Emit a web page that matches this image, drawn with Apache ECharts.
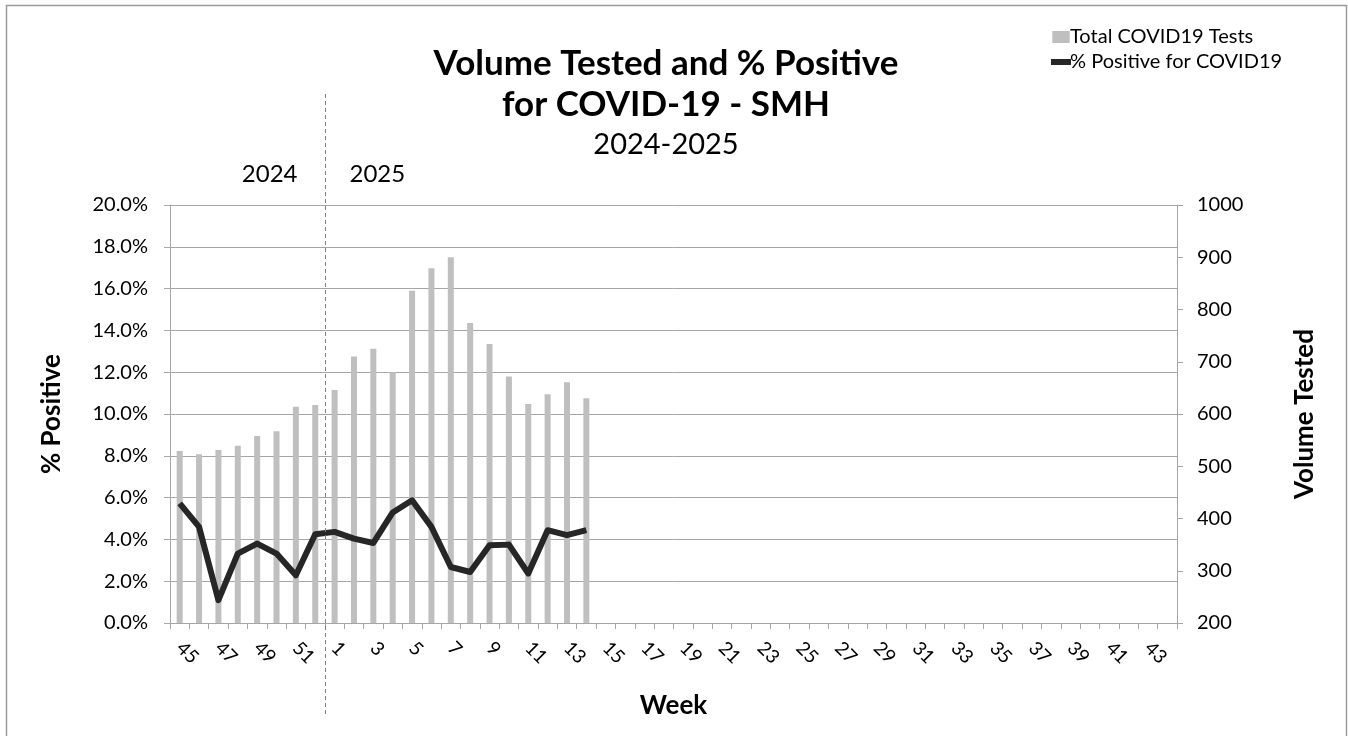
<!DOCTYPE html>
<html>
<head>
<meta charset="utf-8">
<script src="https://cdn.jsdelivr.net/npm/echarts@6/dist/echarts.min.js"></script>
<style>
  html, body { margin: 0; padding: 0; background: #fff; }
  #chart { width: 1348px; height: 736px; }
</style>
</head>
<body>
<div id="chart"></div>
<script>
// week numbers: 45-52 of 2024, then 1-44 of 2025
var weeks = ['45', '46', '47', '48', '49', '50', '51', '52'];
for (var w = 1; w <= 44; w++) weeks.push(String(w));

// Total COVID19 tests per week (right axis)
var totalTests = [529, 523, 531, 539, 558, 567, 614, 617, 646, 710, 725,
  680, 836, 879, 900, 774, 734, 672, 619, 638, 661, 630];

// % positive for COVID19 (left axis)
var pctPositive = [5.72, 4.60, 1.09, 3.32, 3.80, 3.32, 2.28, 4.25, 4.36, 4.04, 3.83,
  5.29, 5.87, 4.60, 2.68, 2.44, 3.72, 3.75, 2.37, 4.44, 4.20, 4.44];

var FONT = 'Lato';
var chart = echarts.init(document.getElementById('chart'));

var option = {
  animation: false,
  textStyle: { fontFamily: FONT, color: '#000' },
  title: [
    {
      text: 'Volume Tested and % Positive\nfor COVID-19 - SMH',
      left: 661, top: 38, textAlign: 'center',
      textStyle: { fontFamily: FONT, fontSize: 35, fontWeight: 'bold', color: '#000', lineHeight: 41 }
    },
    {
      text: '2024-2025',
      left: 661, top: 125, textAlign: 'center',
      textStyle: { fontFamily: FONT, fontSize: 29, fontWeight: 'normal', color: '#000' }
    }
  ],
  legend: {
    orient: 'vertical',
    left: 1046, top: 22,
    itemGap: 5,
    itemWidth: 20, itemHeight: 12,
    textStyle: { fontFamily: FONT, fontSize: 20, color: '#000', padding: [0, 0, 0, -6] },
    data: [
      { name: 'Total COVID19 Tests', icon: 'path://M0,0 H16 V11 H0 Z', itemStyle: { color: '#bfbfbf' } },
      { name: '% Positive for COVID19', icon: 'path://M0,0 H20 V6 H0 Z', itemStyle: { color: '#262626' } }
    ]
  },
  grid: { left: 170, right: 171, top: 205, bottom: 113 },
  xAxis: {
    type: 'category',
    data: weeks,
    boundaryGap: true,
    name: 'Week',
    nameLocation: 'middle',
    nameGap: 70,
    nameTextStyle: { fontFamily: FONT, fontSize: 26, fontWeight: 'bold', color: '#000' },
    axisLine: { lineStyle: { color: '#a6a6a6', width: 1 } },
    axisTick: { show: true, interval: 0, length: 6, lineStyle: { color: '#a6a6a6' } },
    axisLabel: { interval: 1, rotate: -45, fontFamily: FONT, fontSize: 19, color: '#000', margin: 22 }
  },
  yAxis: [
    {
      type: 'value',
      min: 0, max: 20, interval: 2,
      name: '% Positive',
      nameLocation: 'middle',
      nameGap: 105,
      nameRotate: 90,
      nameTextStyle: { fontFamily: FONT, fontSize: 26, fontWeight: 'bold', color: '#000' },
      axisLine: { show: true, lineStyle: { color: '#a6a6a6' } },
      axisTick: { show: true, length: 6, lineStyle: { color: '#a6a6a6' } },
      axisLabel: {
        fontFamily: FONT, fontSize: 20, color: '#000', margin: 22,
        formatter: function (v) { return v.toFixed(1) + '%'; }
      },
      splitLine: { show: true, lineStyle: { color: '#a6a6a6', width: 1 } }
    },
    {
      type: 'value',
      position: 'right',
      min: 200, max: 1000, interval: 100,
      name: 'Volume Tested',
      nameLocation: 'middle',
      nameGap: 115,
      nameRotate: 90,
      nameTextStyle: { fontFamily: FONT, fontSize: 26, fontWeight: 'bold', color: '#000' },
      axisLine: { show: true, lineStyle: { color: '#a6a6a6' } },
      axisTick: { show: true, length: 6, lineStyle: { color: '#a6a6a6' } },
      axisLabel: {
        fontFamily: FONT, fontSize: 20, color: '#000', margin: 20,
        formatter: function (v) { return String(v); }
      },
      splitLine: { show: false }
    }
  ],
  series: [
    {
      name: 'Total COVID19 Tests',
      type: 'bar',
      yAxisIndex: 1,
      data: totalTests,
      barWidth: 6,
      itemStyle: { color: '#bfbfbf' }
    },
    {
      name: '% Positive for COVID19',
      type: 'line',
      yAxisIndex: 0,
      data: pctPositive,
      symbol: 'none',
      lineStyle: { color: '#262626', width: 6, join: 'round' },
      itemStyle: { color: '#262626' },
      z: 5
    }
  ]
};

chart.setOption(option);

// year divider between week 52 and week 1
var x52 = chart.convertToPixel({ xAxisIndex: 0 }, '52');
var x1 = chart.convertToPixel({ xAxisIndex: 0 }, '1');
var divX = Math.round((x52 + x1) / 2) + 0.5;

chart.setOption({
  graphic: [
    {
      type: 'rect',
      shape: { x: 6.5, y: 5.5, width: 1340, height: 740 },
      style: { fill: 'none', stroke: '#9a9a9a', lineWidth: 1.5 },
      silent: true
    },
    {
      type: 'line',
      shape: { x1: divX, y1: 94, x2: divX, y2: 714 },
      style: { stroke: '#808080', lineWidth: 1, lineDash: [4, 3] },
      z: 10
    },
    {
      type: 'text',
      style: { text: '2024', x: divX - 28, y: 174, align: 'right', verticalAlign: 'middle',
        font: '24px ' + FONT, fill: '#000' }
    },
    {
      type: 'text',
      style: { text: '2025', x: divX + 24, y: 174, align: 'left', verticalAlign: 'middle',
        font: '24px ' + FONT, fill: '#000' }
    }
  ]
});
</script>
</body>
</html>
